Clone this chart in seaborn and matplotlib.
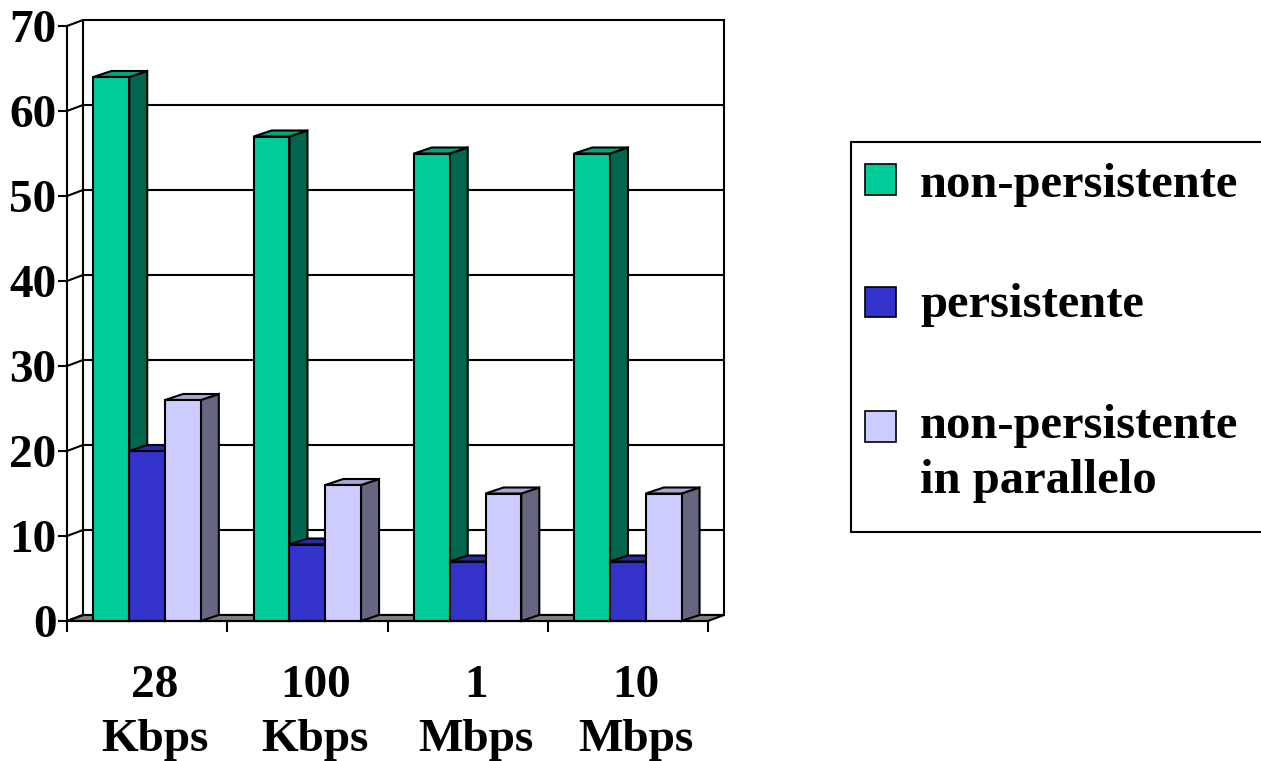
import numpy as np
import pandas as pd
import matplotlib
matplotlib.use("Agg")
import matplotlib.pyplot as plt
import matplotlib.colors as mcolors
from matplotlib.patches import Polygon, Rectangle
from matplotlib.transforms import ScaledTranslation
import seaborn as sns

# Response time by link speed for three HTTP connection modes
rates = ["28\nKbps", "100\nKbps", "1\nMbps", "10\nMbps"]
series = ["non-persistente", "persistente", "non-persistente\nin parallelo"]
non_persistent = [64, 57, 55, 55]
persistent = [20, 9, 7, 7]
parallel = [26, 16, 15, 15]
colors = ["#00CC99", "#3333CC", "#CCCCFF"]
y_ticks = [0, 10, 20, 30, 40, 50, 60, 70]

df = pd.DataFrame({
    "rate": rates * 3,
    "series": [series[0]] * 4 + [series[1]] * 4 + [series[2]] * 4,
    "time": non_persistent + persistent + parallel,
})

sns.set_theme(style="white")
plt.rcParams["font.family"] = ["Liberation Serif", "DejaVu Serif"]
plt.rcParams["font.weight"] = "bold"
plt.rcParams["text.color"] = "black"
plt.rcParams["xtick.color"] = "black"
plt.rcParams["ytick.color"] = "black"
plt.rcParams["xtick.labelcolor"] = "black"
plt.rcParams["ytick.labelcolor"] = "black"

W, H, DPI = 1261, 761, 100
fig = plt.figure(figsize=(W / DPI, H / DPI), dpi=DPI)
# front plane of the 3D box
ax = fig.add_axes([67 / W, 1 - 621 / H, 641 / W, 595 / H])
ax.set_xlim(-0.5, 3.5)
ax.set_ylim(0, 70)

px_x = 641 / 4.0      # pixels per x unit
px_y = 595 / 70.0     # pixels per y unit
wdx, wdy = 16 / px_x, 6 / px_y    # wall depth
bdx, bdy = 18 / px_x, 6 / px_y    # bar depth

lw = 1.5
# back wall, floor and side wall
ax.add_patch(Rectangle((-0.5 + wdx, wdy), 4, 70, facecolor="white", edgecolor="black",
                       lw=lw, clip_on=False, zorder=0.5))
ax.add_patch(Polygon([(-0.5, 0), (3.5, 0), (3.5 + wdx, wdy), (-0.5 + wdx, wdy)],
                     closed=True, facecolor="#808080", edgecolor="black", lw=lw,
                     clip_on=False, zorder=0.6))
for t in y_ticks:
    ax.plot([-0.5, -0.5 + wdx], [t, t + wdy], color="black", lw=lw, clip_on=False, zorder=0.7)
    if 0 < t < 70:
        ax.plot([-0.5 + wdx, 3.5 + wdx], [t + wdy, t + wdy], color="black", lw=lw,
                clip_on=False, zorder=0.7)

sns.barplot(data=df, x="rate", y="time", hue="series", hue_order=series, order=rates,
            palette=colors, width=0.67, dodge=True, edgecolor="black", linewidth=lw,
            saturation=1, legend=False, ax=ax)

bars = sorted([p for p in ax.patches if isinstance(p, Rectangle) and p.get_width() < 1],
              key=lambda p: p.get_x())
for i, p in enumerate(bars):
    x0, w, h = p.get_x(), p.get_width(), p.get_height()
    x1 = x0 + w
    fc = np.array(mcolors.to_rgb(p.get_facecolor()))
    base = 10 + 3 * i
    side = Polygon([(x1, 0), (x1 + bdx, bdy), (x1 + bdx, h + bdy), (x1, h)], closed=True,
                   facecolor=fc * 0.5, edgecolor="black", lw=lw, clip_on=False, zorder=base)
    top = Polygon([(x0, h), (x1, h), (x1 + bdx, h + bdy), (x0 + bdx, h + bdy)], closed=True,
                  facecolor=fc * 0.82, edgecolor="black", lw=lw, clip_on=False, zorder=base + 1)
    ax.add_patch(side)
    ax.add_patch(top)
    p.set_zorder(base + 2)
    p.set_clip_on(False)

# axes lines and ticks
for s in ["top", "right"]:
    ax.spines[s].set_visible(False)
for s in ["left", "bottom"]:
    ax.spines[s].set_linewidth(lw)
    ax.spines[s].set_color("black")
    ax.spines[s].set_zorder(200)
ax.set_yticks(y_ticks)
ax.set_yticklabels([str(t) for t in y_ticks], fontsize=34, fontweight="bold", color="black")
ax.tick_params(axis="y", direction="out", length=6.5, width=lw, pad=1, color="black", left=True)
ax.set_xticks(range(len(rates)))
ax.set_xticklabels(rates, fontsize=34, fontweight="bold", linespacing=1.35, color="black")
ax.set_xticks([-0.5, 0.5, 1.5, 2.5, 3.5], minor=True)
ax.tick_params(axis="x", which="major", length=0, pad=32)
ax.tick_params(axis="x", which="minor", direction="out", length=8, width=lw, color="black", bottom=True)
for lab in ax.get_xticklabels():
    lab.set_transform(lab.get_transform() + ScaledTranslation(8 / DPI, 0, fig.dpi_scale_trans))
ax.set_xlabel("")
ax.set_ylabel("")
ax.grid(False)

# legend panel
fig.patches.append(Rectangle((851 / W, 1 - 532 / H), 420 / W, 390 / H, transform=fig.transFigure,
                             facecolor="white", edgecolor="black", lw=lw, figure=fig))
marker_y = [179, 302, 426]
label_y = [197, 317, 438]
for c, lbl, my, ly in zip(colors, series, marker_y, label_y):
    fig.patches.append(Rectangle((865 / W, 1 - (my + 15.5) / H), 31 / W, 31 / H,
                                 transform=fig.transFigure, facecolor=c, edgecolor="black",
                                 lw=1.2, figure=fig))
    lines = lbl.split("\n")
    for k, line in enumerate(lines):
        fig.text(920 / W, 1 - (ly + 55 * k) / H, line, fontsize=35, fontweight="bold",
                 va="baseline", ha="left", color="black")

fig.savefig("out.png", dpi=DPI)
